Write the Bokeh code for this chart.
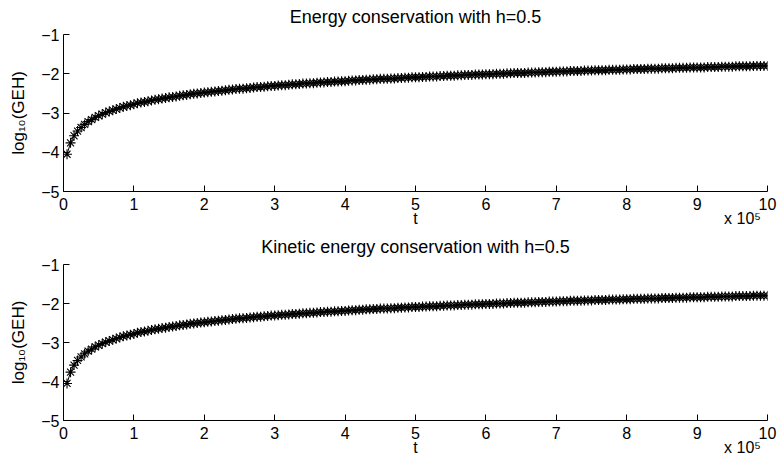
from bokeh.plotting import figure
from bokeh.models import Range1d, FixedTicker, LinearAxis
from bokeh.layouts import column
from bokeh.embed import file_html
from bokeh.resources import INLINE

# ---------------- data ----------------
t_step = 5000
t_vals = [t_step * k for k in range(1, 201)]

energy_geh = [
    -4.05, -3.76, -3.58, -3.46, -3.37, -3.29, -3.22, -3.17, -3.11, -3.07,
    -3.03, -2.99, -2.96, -2.93, -2.90, -2.87, -2.84, -2.82, -2.80, -2.78,
    -2.75, -2.73, -2.72, -2.70, -2.68, -2.66, -2.65, -2.63, -2.62, -2.60,
    -2.59, -2.58, -2.56, -2.55, -2.54, -2.52, -2.51, -2.50, -2.49, -2.48,
    -2.47, -2.46, -2.45, -2.44, -2.43, -2.42, -2.41, -2.40, -2.39, -2.38,
    -2.38, -2.37, -2.36, -2.35, -2.34, -2.34, -2.33, -2.32, -2.31, -2.31,
    -2.30, -2.29, -2.29, -2.28, -2.27, -2.27, -2.26, -2.25, -2.25, -2.24,
    -2.24, -2.23, -2.22, -2.22, -2.21, -2.21, -2.20, -2.20, -2.19, -2.19,
    -2.18, -2.17, -2.17, -2.16, -2.16, -2.15, -2.15, -2.14, -2.14, -2.13,
    -2.13, -2.13, -2.12, -2.12, -2.11, -2.11, -2.10, -2.10, -2.09, -2.09,
    -2.09, -2.08, -2.08, -2.07, -2.07, -2.07, -2.06, -2.06, -2.05, -2.05,
    -2.05, -2.04, -2.04, -2.03, -2.03, -2.03, -2.02, -2.02, -2.02, -2.01,
    -2.01, -2.01, -2.00, -2.00, -2.00, -1.99, -1.99, -1.98, -1.98, -1.98,
    -1.98, -1.97, -1.97, -1.97, -1.96, -1.96, -1.96, -1.95, -1.95, -1.95,
    -1.94, -1.94, -1.94, -1.93, -1.93, -1.93, -1.93, -1.92, -1.92, -1.92,
    -1.91, -1.91, -1.91, -1.91, -1.90, -1.90, -1.90, -1.90, -1.89, -1.89,
    -1.89, -1.88, -1.88, -1.88, -1.88, -1.87, -1.87, -1.87, -1.87, -1.86,
    -1.86, -1.86, -1.86, -1.85, -1.85, -1.85, -1.85, -1.84, -1.84, -1.84,
    -1.84, -1.84, -1.83, -1.83, -1.83, -1.83, -1.82, -1.82, -1.82, -1.82,
    -1.81, -1.81, -1.81, -1.81, -1.81, -1.80, -1.80, -1.80, -1.80, -1.80,
]
kinetic_geh = list(energy_geh)

titles = ["Energy conservation with h=0.5", "Kinetic energy conservation with h=0.5"]

x_tick_vals = [0, 100000, 200000, 300000, 400000, 500000, 600000, 700000, 800000, 900000, 1000000]
x_tick_labels = ["0", "1", "2", "3", "4", "5", "6", "7", "8", "9", "10"]
y_tick_vals = [-5, -4, -3, -2, -1]
y_tick_labels = ["\u22125", "\u22124", "\u22123", "\u22122", "\u22121"]
y_label = "log\u2081\u2080(GEH)"
x_label = "t"
x_exponent = "x 10\u2075"

FONT = "Liberation Sans"


def make_panel(title, geh, height, top_border, frame_h, title_standoff):
    p = figure(width=781, height=height, output_backend="svg", toolbar_location=None,
               x_range=Range1d(0, 1000000), y_range=Range1d(-5, -1),
               min_border_left=63, min_border_right=14, min_border_top=top_border,
               min_border_bottom=height - top_border - frame_h)
    p.title.text = title
    p.title.align = "center"
    p.title.vertical_align = "top"
    p.title.text_font = FONT
    p.title.text_font_size = "18px"
    p.title.text_font_style = "normal"
    p.title.text_color = "black"
    p.title.standoff = title_standoff

    p.outline_line_color = None
    p.xgrid.visible = False
    p.ygrid.visible = False

    p.xaxis.ticker = FixedTicker(ticks=x_tick_vals)
    p.xaxis.major_label_overrides = dict(zip(x_tick_vals, x_tick_labels))
    p.yaxis.ticker = FixedTicker(ticks=y_tick_vals)
    p.yaxis.major_label_overrides = dict(zip(y_tick_vals, y_tick_labels))
    for ax in (p.xaxis, p.yaxis):
        ax.major_tick_in = 6
        ax.major_tick_out = 0
        ax.minor_tick_in = 0
        ax.minor_tick_out = 0
        ax.axis_line_color = "black"
        ax.axis_line_width = 1
        ax.major_tick_line_color = "black"
        ax.major_label_text_font = FONT
        ax.major_label_text_font_size = "16px"
        ax.major_label_text_color = "black"
    p.xaxis.major_label_standoff = 6
    p.yaxis.major_label_standoff = 4
    p.yaxis.axis_label = y_label
    p.yaxis.axis_label_text_font = FONT
    p.yaxis.axis_label_text_font_size = "17px"
    p.yaxis.axis_label_text_font_style = "normal"
    p.yaxis.axis_label_text_color = "black"
    p.yaxis.axis_label_standoff = 10

    # second row under the x axis: "t" in the middle and the exponent at the right
    label_pos = [500000, 964500]
    extra = LinearAxis(ticker=FixedTicker(ticks=label_pos),
                       major_label_overrides=dict(zip(label_pos, [x_label, x_exponent])))
    extra.axis_line_color = None
    extra.major_tick_line_color = None
    extra.minor_tick_line_color = None
    extra.major_tick_in = 0
    extra.major_tick_out = 0
    extra.major_label_standoff = -3
    extra.major_label_text_font = FONT
    extra.major_label_text_font_size = "16px"
    extra.major_label_text_color = "black"
    p.add_layout(extra, "below")

    p.line(t_vals, geh, line_color="black", line_width=1)
    p.scatter(t_vals, geh, marker="asterisk", size=10, line_color="black", line_width=1.1)
    return p


p1 = make_panel(titles[0], energy_geh, 230, 34, 157, 11)
p2 = make_panel(titles[1], kinetic_geh, 242, 34, 156, 11)

layout = column(p1, p2, spacing=0)
open("out.html", "w").write(file_html(layout, INLINE))
